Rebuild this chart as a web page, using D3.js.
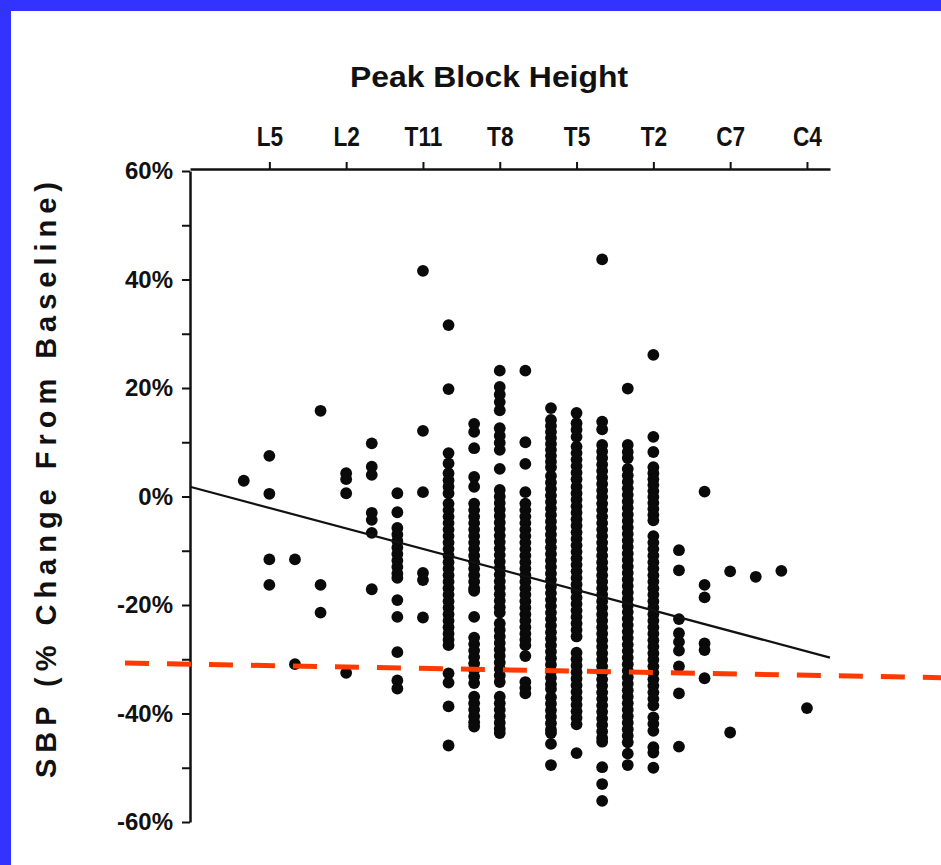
<!DOCTYPE html>
<html>
<head>
<meta charset="utf-8">
<script src="https://cdn.jsdelivr.net/npm/d3@7"></script>
<style>
  html, body { margin: 0; padding: 0; background: #fff; }
  svg { display: block; }
</style>
</head>
<body>
<svg id="chart" width="941" height="865"></svg>
<script>
// ---------------- DATA ----------------
const levelNames = ["S1","L5","L4","L3","L2","L1","T12","T11","T10","T9","T8","T7","T6","T5","T4","T3","T2","T1","C8","C7","C6","C5","C4"];
const levelIndex = [-1,0,1,2,3,4,5,6,7,8,9,10,11,12,13,14,15,16,17,18,19,20,21];

const tickLevels = [0,3,6,9,12,15,18,21];
const tickLabels = ["L5","L2","T11","T8","T5","T2","C7","C4"];
const yTicks = [-60,-50,-40,-30,-20,-10,0,10,20,30,40,50,60];

const vS1  = [2.9];
const vL5  = [7.5, 0.5, -11.6, -16.3];
const vL4  = [-11.6, -30.9];
const vL3  = [15.8, -16.3, -21.4];
const vL2  = [4.3, 3.2, 0.6, -32.5];
const vL1  = [9.8, 5.5, 4.0, -3.0, -4.3, -6.7, -17.1];
const vT12 = [0.6, -2.9, -5.8, -7.0, -8.2, -9.4, -10.6, -11.8, -13.0, -14.2, -15.0, -19.1, -22.2, -28.7, -33.9, -35.4];
const vT11 = [41.6, 12.1, 0.8, -14.1, -15.4, -22.3];
const vT10 = [31.6, 19.8, 8.0, 6.1, 4.3, 3.0, 1.8, 0.6, -1.3, -2.5, -3.7, -4.9, -6.1, -7.3, -8.5, -9.7, -10.9, -12.1, -13.3, -14.5, -15.7, -16.9, -18.1, -19.3, -20.5, -21.7, -22.9, -24.1, -25.3, -26.4, -27.4, -32.6, -34.3, -38.7, -45.9];
const vT9  = [13.4, 11.9, 8.9, 3.6, 1.8, -1.3, -2.5, -3.7, -4.9, -6.1, -7.3, -8.5, -9.7, -10.9, -12.1, -13.3, -14.5, -15.7, -16.9, -17.4, -22.2, -26.0, -27.2, -28.4, -29.6, -30.8, -32.0, -33.2, -34.4, -36.9, -38.1, -39.3, -40.5, -41.6, -42.4];
const vT8  = [23.2, 20.2, 18.8, 17.4, 15.9, 12.6, 11.2, 9.9, 8.6, 5.1, 1.2, 0.0, -1.2, -2.4, -3.6, -4.8, -6.0, -7.2, -8.4, -9.6, -10.8, -12.0, -13.2, -14.4, -15.6, -16.8, -18.0, -19.2, -20.4, -21.4, -23.4, -24.6, -25.8, -27.0, -28.2, -29.4, -30.6, -31.8, -33.0, -34.2, -36.9, -38.1, -39.3, -40.5, -41.7, -42.8, -43.6];
const vT7  = [23.2, 10.0, 6.0, 0.8, -1.3, -2.5, -3.7, -4.9, -6.1, -7.3, -8.5, -9.7, -10.9, -12.1, -13.3, -14.5, -15.7, -16.9, -18.1, -19.3, -20.5, -21.7, -22.9, -24.1, -25.3, -26.4, -27.4, -29.4, -34.2, -35.3, -36.3];
const vT6  = [16.3, 14.1, 13.0, 11.9, 10.8, 9.7, 8.6, 7.5, 6.4, 5.4, 3.8, 2.6, 1.4, 0.2, -1.0, -2.2, -3.4, -4.6, -5.8, -7.0, -8.2, -9.4, -10.6, -11.8, -13.0, -14.2, -15.4, -16.6, -17.8, -19.0, -20.2, -21.4, -22.6, -23.8, -25.0, -26.2, -27.4, -28.6, -29.8, -31.0, -32.2, -33.4, -34.6, -35.5, -37.0, -38.2, -39.4, -40.6, -41.8, -43.0, -43.6, -45.6, -49.5];
const vT5  = [15.4, 13.5, 12.3, 11.0, 9.2, 8.0, 6.8, 5.6, 4.4, 3.2, 1.8, 0.6, -0.6, -1.8, -3.0, -4.2, -5.4, -6.6, -7.8, -9.0, -10.2, -11.4, -12.6, -13.8, -15.0, -16.2, -17.4, -18.6, -19.8, -21.0, -22.2, -23.4, -24.6, -25.8, -28.8, -30.0, -31.2, -32.4, -33.6, -34.8, -36.0, -37.2, -38.4, -39.6, -40.8, -42.0, -47.3];
const vT4  = [43.7, 13.8, 12.4, 9.5, 8.3, 7.1, 5.9, 4.7, 3.5, 2.3, 1.1, -0.1, -1.3, -2.5, -3.7, -4.9, -6.1, -7.3, -8.5, -9.7, -10.9, -12.1, -13.3, -14.5, -15.7, -16.9, -18.1, -19.3, -20.5, -21.7, -22.9, -24.1, -25.3, -26.5, -27.7, -28.9, -30.1, -31.3, -32.5, -33.7, -34.9, -36.1, -37.3, -38.5, -39.7, -40.9, -42.1, -43.3, -44.5, -45.2, -49.9, -53.0, -56.1];
const vT3  = [19.9, 9.5, 8.2, 7.1, 5.1, 3.9, 2.7, 1.5, 0.3, -0.9, -2.1, -3.3, -4.5, -5.7, -6.9, -8.1, -9.3, -10.5, -11.7, -12.9, -14.1, -15.3, -16.5, -17.7, -18.9, -20.1, -21.3, -22.5, -23.7, -24.9, -26.1, -27.3, -28.5, -29.7, -30.9, -32.1, -33.3, -34.5, -35.7, -36.9, -38.1, -39.3, -40.5, -41.7, -42.9, -44.1, -45.3, -47.4, -49.5];
const vT2  = [26.1, 11.0, 8.2, 5.4, 4.3, 3.2, 2.1, 1.0, -0.1, -1.2, -2.3, -3.4, -4.4, -7.3, -8.5, -9.7, -10.9, -12.1, -13.3, -14.5, -15.7, -16.9, -18.1, -19.3, -20.5, -21.7, -22.9, -24.1, -25.3, -26.5, -27.7, -28.9, -30.1, -31.3, -32.5, -33.7, -34.9, -36.1, -37.3, -38.5, -40.7, -41.9, -43.2, -46.2, -47.2, -50.0];
const vT1  = [-9.9, -13.6, -22.6, -25.2, -26.8, -28.4, -31.3, -36.3, -46.1];
const vC8  = [0.9, -16.3, -18.6, -27.1, -28.3, -33.5];
const vC7  = [-13.8, -43.5];
const vC6  = [-14.8];
const vC5  = [-13.7];
const vC4  = [-39.0];

const levelValues = [vS1, vL5, vL4, vL3, vL2, vL1, vT12, vT11, vT10, vT9, vT8, vT7, vT6, vT5, vT4, vT3, vT2, vT1, vC8, vC7, vC6, vC5, vC4];

// regression line (black) and reference line (red dashed)
const regLevels = [-3.1, 21.9];
const regValues = [1.8, -29.7];
const refLevels = [-5.64, 26.24];
const refValues = [-30.7, -33.4];

const titleText = "Peak Block Height";
const yTitleText = "SBP (% Change From Baseline)";

// ---------------- CHART ----------------
const W = 941, H = 865;
const svg = d3.select("#chart");
const FONT = "'Liberation Sans', Arial, Helvetica, sans-serif";

// frame
svg.append("rect").attr("x", 0).attr("y", 0).attr("width", W).attr("height", H).attr("fill", "#3333ff");
svg.append("rect").attr("x", 11).attr("y", 11).attr("width", W - 11).attr("height", H - 11).attr("fill", "#ffffff");

const x = d3.scaleLinear().domain([-3.1, 21.9]).range([190, 830]);
const y = d3.scaleLinear().domain([-60, 60]).range([822, 171]);

// points
const pts = [];
levelIndex.forEach((li, i) => levelValues[i].forEach(v => pts.push({ li, v })));

svg.append("g").selectAll("circle").data(pts).join("circle")
  .attr("cx", d => x(d.li))
  .attr("cy", d => y(d.v))
  .attr("r", 5.9)
  .attr("fill", "#0a0a0a");

// regression line
const lineGen = d3.line().x(d => x(d[0])).y(d => y(d[1]));
svg.append("path")
  .datum(regLevels.map((l, i) => [l, regValues[i]]))
  .attr("d", lineGen)
  .attr("fill", "none").attr("stroke", "#111").attr("stroke-width", 2.2);

// Y axis
const yAxis = d3.axisLeft(y).tickValues(yTicks).tickSize(8).tickSizeOuter(0)
  .tickFormat(d => (d % 20 === 0 ? d + "%" : ""));
const gy = svg.append("g").attr("transform", "translate(190,0)").call(yAxis);
gy.select(".domain").attr("stroke", "#111").attr("stroke-width", 2.5);
gy.selectAll(".tick line").attr("stroke", "#111").attr("stroke-width", 2);
gy.selectAll(".tick text")
  .attr("x", -17)
  .attr("font-family", FONT).attr("font-weight", "bold").attr("font-size", 24)
  .attr("fill", "#111");

// X axis (top)
const xAxis = d3.axisTop(x).tickValues(tickLevels).tickSize(7).tickSizeOuter(0)
  .tickFormat((d, i) => tickLabels[i]);
const gx = svg.append("g").attr("transform", "translate(0,169)").call(xAxis);
gx.select(".domain").attr("stroke", "#111").attr("stroke-width", 2.5);
gx.selectAll(".tick line").attr("stroke", "#111").attr("stroke-width", 2);
gx.selectAll(".tick text")
  .attr("y", -23)
  .attr("transform", "scale(0.84,1)")
  .attr("font-family", FONT).attr("font-weight", "bold").attr("font-size", 27)
  .attr("fill", "#111");

// red dashed reference line
svg.append("path")
  .datum(refLevels.map((l, i) => [l, refValues[i]]))
  .attr("d", lineGen)
  .attr("fill", "none").attr("stroke", "#ff3a00").attr("stroke-width", 5)
  .attr("stroke-dasharray", "24,18");

// title
svg.append("text")
  .attr("x", 489).attr("y", 87)
  .attr("text-anchor", "middle")
  .attr("font-family", FONT).attr("font-weight", "bold").attr("font-size", 30)
  .attr("textLength", 278).attr("lengthAdjust", "spacingAndGlyphs")
  .attr("fill", "#111")
  .text(titleText);

// y title
svg.append("text")
  .attr("transform", "translate(56,480) rotate(-90)")
  .attr("text-anchor", "middle")
  .attr("font-family", FONT).attr("font-weight", "bold").attr("font-size", 29)
  .attr("textLength", 596).attr("lengthAdjust", "spacing")
  .attr("fill", "#111")
  .text(yTitleText);
</script>
</body>
</html>
